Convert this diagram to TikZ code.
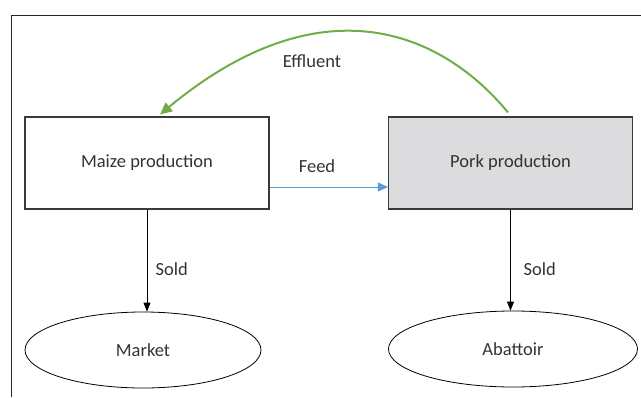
\documentclass[tikz,border=0pt]{standalone}
\usepackage{fontspec}
\setmainfont{Carlito}
\usetikzlibrary{shapes.geometric,arrows.meta,calc}
\definecolor{inkgray}{HTML}{333333}
\definecolor{boxline}{HTML}{3A3A3A}
\definecolor{porkfill}{HTML}{DCDCDE}
\definecolor{feedblue}{HTML}{5B9BD5}
\definecolor{effgreen}{HTML}{70AD47}
\tikzset{
  labelfont/.style={font=\fontsize{18.5}{22}\selectfont, text=inkgray},
  procbox/.style={draw=boxline, line width=1.1pt, minimum width=244pt, minimum height=92pt,
    inner sep=0pt, labelfont},
  endpoint/.style={ellipse, draw=black, line width=0.8pt, inner sep=0pt, labelfont},
  flowlabel/.style={labelfont},
  soldarrow/.style={draw=black, line width=0.8pt, -{Triangle[length=9pt,width=7pt]}},
  feedarrow/.style={draw=feedblue, line width=1pt, -{Triangle[length=10pt,width=9pt]}},
  effarrow/.style={draw=effgreen, line width=2pt, -{Triangle[length=12pt,width=11pt]}},
  frameline/.style={draw=black!85, line width=1pt}
}
\begin{document}
\begin{tikzpicture}[x=1pt,y=-1pt]
  \useasboundingbox (0,0) rectangle (641,397);
  % outer frame: top and left edges only
  \coordinate (fbottom) at (11,397);
  \coordinate (fcorner) at (11,15);
  \coordinate (fright) at (641,15);
  \draw[frameline] (fbottom) -- (fcorner) -- (fright);

  % production units
  \node[procbox] (maize) at (147,163) {Maize production};
  \node[procbox, fill=porkfill] (pork) at (510.5,163) {Pork production};

  % destinations
  \node[endpoint, minimum width=236pt, minimum height=76pt] (market) at (143,350) {Market};
  \node[endpoint, minimum width=249pt, minimum height=76pt] (abattoir) at (513,349) {Abattoir};

  % sales
  \draw[soldarrow] (maize.south) -- (maize.south |- market.north);
  \node[flowlabel, anchor=west] (sold1) at (152,269) {Sold};
  \draw[soldarrow] (pork.south) -- (pork.south |- abattoir.north);
  \node[flowlabel, anchor=west] (sold2) at (520,269) {Sold};

  % feed from maize to pork
  \coordinate (feedlevel) at (0,187);
  \draw[feedarrow] (maize.east |- feedlevel) -- (pork.west |- feedlevel);
  \node[flowlabel] (feedlbl) at (317,166) {Feed};

  % effluent returned to the maize field
  \coordinate (effstart) at ($(pork.north)+(-2.5,-4)$);
  \coordinate (effend) at ($(maize.north)+(13,-2)$);
  \draw[effarrow] (effstart) .. controls (440,30) and (320,-18) .. (effend);
  \node[flowlabel] (efflbl) at (312,61) {Effluent};
\end{tikzpicture}
\end{document}
